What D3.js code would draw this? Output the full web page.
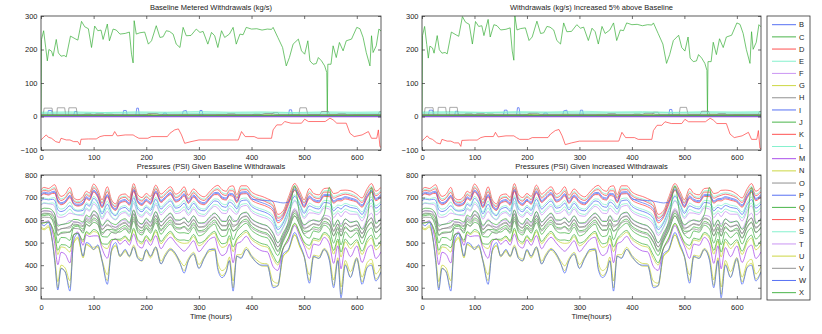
<!DOCTYPE html>
<html>
<head>
<meta charset="utf-8">
<script src="https://cdn.jsdelivr.net/npm/d3@7"></script>
<style>
  body { margin: 0; background: #fff; }
  svg { font-family: 'Liberation Sans', Arial, sans-serif; font-size: 7.5px; }
  .tick text { fill: #222; }
</style>
</head>
<body>
<svg id="chart" width="822" height="334"></svg>
<script>
// node names and colours (legend order)
const names = ['B', 'C', 'D', 'E', 'F', 'G', 'H', 'I', 'J', 'K', 'L', 'M', 'N', 'O', 'P', 'Q', 'R', 'S', 'T', 'U', 'V', 'W', 'X']
const colors = ['#4461f2', '#36ad36', '#ff3c3c', '#78efc8', '#c48af2', '#c6d22e', '#858585',
  '#4461f2', '#36ad36', '#ff3c3c', '#78efc8', '#a03ce8', '#c6d22e', '#858585',
  '#4461f2', '#36ad36', '#ff3c3c', '#78efc8', '#c48af2', '#c6d22e', '#858585',
  '#4461f2', '#36ad36']

const xTicks = [0, 100, 200, 300, 400, 500, 600]
const flowTicks = [-100, 0, 100, 200, 300]
const pressureTicks = [300, 400, 500, 600, 700, 800]
const increase = 1.05

// withdrawals (kg/s), [hour, value]
const wB = [[0, 2], [12, 2], [14, 18], [20, 18], [22, 2], [62, 2], [64, 15], [68, 15], [70, 2], [155, 2], [157, 18], [162, 18], [164, 2], [180, 2], [182, 25], [185, 25], [187, 2], [268, 2], [270, 16], [276, 18], [279, 2], [300, 2], [302, 18], [306, 18], [308, 2], [470, 2], [472, 20], [476, 20], [478, 2], [646, 2]]
const wC = [[0, 0], [1, 230], [5, 256], [9, 205], [12, 166], [15, 200], [20, 195], [23, 180], [29, 230], [33, 190], [38, 180], [44, 182], [48, 178], [56, 240], [65, 232], [70, 228], [77, 284], [83, 268], [90, 262], [96, 206], [102, 270], [108, 256], [114, 258], [118, 230], [126, 276], [130, 226], [137, 261], [143, 258], [150, 246], [160, 248], [168, 252], [172, 186], [175, 160], [177, 286], [181, 246], [188, 250], [197, 252], [204, 216], [210, 226], [219, 271], [226, 236], [232, 238], [238, 256], [244, 254], [251, 246], [257, 216], [264, 206], [270, 266], [276, 241], [285, 242], [295, 261], [302, 251], [308, 254], [317, 216], [324, 251], [330, 241], [336, 206], [343, 256], [349, 236], [358, 246], [365, 266], [371, 216], [378, 246], [384, 244], [390, 266], [400, 261], [410, 262], [420, 258], [430, 261], [438, 260], [441, 266], [450, 236], [459, 206], [466, 151], [472, 176], [479, 216], [489, 231], [495, 196], [501, 186], [507, 226], [511, 166], [517, 156], [523, 158], [527, 176], [533, 166], [539, 151], [543, 131], [544, 5], [545, 156], [551, 156], [555, 211], [561, 176], [567, 221], [574, 196], [580, 226], [590, 231], [600, 266], [606, 262], [612, 236], [618, 191], [625, 151], [628, 241], [631, 191], [637, 211], [642, 261], [646, 255]]
const wD = [[0, -70], [5, -62], [10, -55], [14, -62], [20, -65], [28, -75], [35, -78], [38, -65], [48, -70], [55, -70], [62, -75], [70, -75], [74, -85], [76, -68], [90, -67], [105, -67], [112, -60], [120, -57], [136, -57], [140, -45], [145, -58], [160, -55], [175, -55], [180, -60], [186, -65], [203, -65], [210, -60], [240, -60], [245, -50], [254, -40], [261, -37], [267, -55], [273, -80], [285, -75], [300, -70], [375, -70], [381, -45], [388, -60], [405, -60], [412, -65], [438, -65], [441, -40], [448, -25], [457, -25], [463, -15], [475, -20], [495, -20], [501, -8], [508, -15], [540, -15], [549, -5], [555, -10], [562, -20], [580, -20], [587, -50], [595, -60], [610, -55], [622, -45], [628, -65], [638, -65], [641, -40], [644, -90], [646, -92]]
const wE = [[0, 13], [60, 14], [120, 12], [180, 14], [240, 13], [300, 15], [360, 13], [420, 14], [480, 12], [540, 14], [600, 13], [646, 14]]
const wF = [[0, 0], [646, 0]]
const wG = [[0, 2], [75, 2], [80, 6], [95, 6], [100, 2], [190, 2], [195, 5], [210, 5], [215, 2], [330, 2], [335, 6], [350, 6], [355, 2], [470, 2], [475, 6], [490, 6], [495, 2], [590, 2], [595, 5], [612, 5], [617, 2], [646, 2]]
const wH = [[0, 0], [4, 3], [6, 25], [21, 25], [23, 3], [30, 3], [31, 26], [45, 26], [47, 3], [52, 3], [53, 26], [67, 26], [69, 4], [80, 4], [84, 9], [95, 9], [98, 4], [200, 4], [205, 8], [210, 4], [300, 4], [305, 7], [310, 4], [438, 4], [441, 12], [450, 12], [453, 4], [490, 4], [492, 26], [504, 26], [507, 6], [530, 6], [533, 15], [546, 15], [549, 4], [640, 5], [643, 14], [646, 14]]
const wI = [[0, 3], [230, 3], [233, 10], [238, 10], [241, 3], [646, 3]]
const wJ = [[0, 4], [120, 4], [125, 7], [135, 7], [140, 4], [400, 4], [405, 7], [415, 7], [420, 4], [646, 4]]
const wK = [[0, 1], [646, 1]]
const wL = [[0, 9], [150, 10], [300, 9], [450, 10], [600, 9], [646, 9]]
const wM = [[0, 0], [646, 0]]
const wN = [[0, 3], [260, 3], [265, 6], [280, 6], [285, 3], [540, 3], [545, 6], [560, 6], [565, 3], [646, 3]]
const wO = [[0, 5], [100, 4], [105, 8], [118, 8], [122, 4], [350, 4], [355, 8], [368, 8], [372, 4], [560, 4], [565, 8], [578, 8], [582, 4], [646, 5]]
const wP = [[0, 2], [646, 2]]
const wQ = [[0, 2], [646, 2]]
const wR = [[0, 1], [646, 1]]
const wS = [[0, 11], [646, 11]]
const wT = [[0, 1], [646, 1]]
const wU = [[0, 4], [646, 4]]
const wV = [[0, 6], [200, 6], [205, 9], [220, 9], [225, 6], [420, 6], [425, 9], [440, 9], [445, 6], [646, 6]]
const wW = [[0, 1], [646, 1]]
const wX = [[0, 3], [646, 3]]

// pressures (PSI), one value per entry of hours
const hours = [0, 6, 14, 22, 26, 32, 38, 46, 55, 62, 70, 80, 86, 92, 100, 108, 116, 126, 134, 142, 150, 160, 168, 176, 184, 192, 200, 208, 218, 228, 236, 246, 256, 264, 272, 280, 290, 300, 310, 320, 330, 336, 344, 352, 358, 365, 372, 380, 390, 400, 410, 420, 430, 441, 450, 460, 470, 482, 492, 500, 510, 518, 528, 538, 548, 556, 564, 570, 578, 588, 600, 610, 620, 628, 636, 646]
const pB = [715, 724, 720, 727, 728, 691, 677, 685, 710, 678, 670, 679, 704, 696, 733, 710, 664, 714, 667, 651, 684, 691, 675, 736, 686, 674, 693, 679, 729, 687, 703, 722, 689, 697, 717, 683, 711, 686, 677, 700, 722, 723, 703, 698, 719, 716, 686, 724, 726, 698, 685, 677, 668, 649, 597, 618, 676, 739, 701, 665, 707, 692, 686, 714, 714, 685, 695, 696, 704, 698, 688, 667, 710, 732, 696, 714]
const pC = [623, 627, 628, 612, 592, 532, 545, 547, 546, 577, 578, 559, 594, 586, 609, 595, 544, 558, 558, 554, 564, 576, 557, 614, 564, 552, 578, 559, 607, 558, 579, 600, 569, 565, 572, 559, 587, 553, 557, 582, 600, 580, 556, 557, 586, 550, 566, 592, 604, 574, 558, 548, 541, 504, 465, 517, 566, 630, 588, 550, 552, 570, 564, 594, 582, 530, 568, 528, 571, 551, 564, 522, 572, 591, 546, 569]
const pD = [735, 745, 740, 752, 757, 725, 705, 715, 745, 700, 690, 705, 728, 720, 760, 735, 690, 748, 690, 672, 710, 716, 700, 762, 712, 700, 718, 705, 755, 715, 730, 748, 715, 725, 748, 710, 738, 715, 703, 725, 748, 754, 735, 728, 748, 752, 712, 752, 752, 725, 712, 705, 695, 680, 625, 640, 700, 762, 725, 690, 740, 718, 712, 740, 742, 718, 722, 732, 733, 730, 715, 698, 740, 762, 728, 745]
const pE = [727, 737, 732, 742, 745, 711, 694, 703, 731, 691, 682, 695, 718, 710, 749, 725, 680, 734, 681, 664, 700, 706, 690, 751, 701, 689, 708, 695, 744, 704, 719, 737, 705, 714, 735, 699, 727, 703, 693, 715, 737, 742, 722, 716, 736, 738, 702, 741, 741, 714, 701, 694, 684, 667, 614, 631, 690, 753, 715, 680, 727, 707, 701, 730, 731, 705, 711, 717, 721, 717, 704, 685, 728, 750, 715, 732]
const pF = [667, 674, 672, 669, 661, 614, 612, 617, 631, 626, 622, 619, 648, 640, 671, 652, 604, 638, 612, 601, 624, 633, 616, 675, 625, 613, 635, 619, 668, 623, 641, 661, 629, 632, 646, 621, 649, 620, 617, 641, 661, 653, 631, 629, 653, 636, 626, 659, 665, 636, 622, 613, 605, 578, 532, 566, 620, 684, 644, 607, 632, 631, 625, 654, 649, 610, 632, 615, 638, 626, 626, 596, 642, 663, 623, 643]
const pG = [587, 588, 592, 559, 524, 447, 481, 477, 458, 534, 542, 503, 544, 536, 549, 542, 488, 474, 511, 515, 508, 523, 503, 556, 506, 494, 525, 503, 549, 495, 519, 542, 513, 501, 497, 499, 527, 486, 501, 528, 542, 507, 479, 486, 519, 460, 510, 528, 546, 514, 497, 485, 480, 429, 401, 474, 516, 583, 537, 497, 471, 512, 506, 538, 518, 449, 507, 436, 504, 474, 504, 447, 502, 520, 468, 494]
const pH = [625, 631, 630, 622, 609, 557, 561, 565, 573, 582, 580, 571, 602, 594, 622, 605, 556, 582, 566, 558, 576, 586, 568, 626, 576, 564, 588, 571, 619, 573, 592, 612, 581, 581, 592, 572, 600, 569, 569, 593, 612, 600, 577, 576, 602, 578, 578, 608, 616, 587, 572, 563, 555, 524, 481, 522, 574, 638, 597, 560, 576, 582, 576, 606, 598, 554, 582, 556, 587, 572, 577, 542, 590, 610, 568, 589]
const pI = [685, 693, 690, 692, 688, 646, 638, 645, 664, 646, 640, 643, 670, 662, 696, 675, 628, 670, 633, 620, 648, 656, 639, 699, 649, 637, 658, 643, 692, 649, 666, 685, 653, 658, 675, 646, 674, 647, 641, 664, 685, 682, 661, 657, 680, 670, 650, 685, 689, 661, 647, 639, 630, 607, 558, 586, 642, 705, 666, 630, 663, 655, 649, 678, 675, 641, 657, 649, 665, 656, 651, 625, 670, 691, 653, 672]
const pJ = [618, 620, 623, 597, 568, 498, 523, 522, 510, 568, 573, 542, 581, 573, 590, 580, 527, 525, 546, 547, 547, 561, 541, 596, 546, 534, 563, 542, 589, 537, 560, 582, 552, 543, 544, 540, 568, 530, 540, 566, 582, 553, 527, 531, 563, 513, 549, 570, 586, 555, 538, 527, 521, 476, 443, 508, 553, 618, 574, 535, 520, 552, 546, 577, 560, 498, 548, 490, 548, 522, 545, 494, 547, 565, 516, 541]
const pK = [723, 732, 728, 736, 739, 704, 687, 697, 723, 686, 677, 689, 713, 705, 743, 720, 674, 727, 675, 659, 694, 701, 684, 745, 695, 684, 703, 689, 739, 698, 713, 732, 699, 708, 728, 693, 721, 697, 687, 709, 732, 735, 715, 709, 730, 730, 696, 734, 735, 708, 695, 688, 678, 661, 608, 626, 685, 747, 710, 675, 719, 702, 695, 724, 724, 697, 705, 710, 715, 710, 698, 678, 721, 743, 708, 726]
const pL = [689, 698, 694, 699, 699, 661, 649, 656, 680, 652, 644, 651, 677, 669, 705, 683, 636, 684, 640, 625, 656, 664, 648, 708, 658, 646, 666, 651, 701, 658, 675, 694, 661, 668, 687, 655, 683, 656, 649, 673, 694, 693, 672, 668, 690, 684, 658, 695, 698, 670, 656, 648, 639, 618, 568, 592, 649, 712, 673, 638, 675, 664, 658, 687, 685, 653, 667, 664, 674, 666, 660, 636, 680, 702, 664, 683]
const pM = [592, 590, 597, 547, 496, 402, 457, 448, 410, 532, 547, 488, 535, 527, 530, 530, 473, 431, 504, 517, 493, 511, 489, 538, 488, 476, 513, 488, 531, 473, 500, 524, 498, 477, 462, 480, 508, 460, 486, 514, 524, 475, 443, 455, 493, 411, 495, 504, 528, 495, 476, 463, 459, 394, 377, 472, 507, 576, 526, 485, 430, 494, 488, 523, 494, 408, 486, 384, 478, 438, 485, 412, 473, 489, 430, 459]
const pN = [570, 562, 575, 497, 421, 299, 387, 370, 301, 499, 525, 432, 491, 483, 469, 480, 417, 331, 462, 489, 437, 461, 436, 480, 430, 418, 463, 432, 473, 406, 439, 466, 442, 407, 376, 419, 447, 388, 430, 461, 466, 391, 354, 374, 421, 299, 439, 434, 470, 434, 412, 396, 395, 308, 307, 439, 463, 534, 479, 435, 332, 436, 430, 467, 424, 310, 422, 270, 406, 349, 424, 326, 395, 408, 338, 373]
const pO = [607, 613, 612, 602, 587, 533, 540, 543, 549, 563, 562, 551, 582, 574, 601, 585, 536, 558, 547, 540, 556, 566, 548, 605, 555, 543, 568, 551, 598, 552, 571, 591, 561, 560, 569, 551, 579, 547, 549, 573, 591, 578, 554, 554, 580, 554, 558, 587, 595, 566, 551, 542, 534, 501, 460, 503, 554, 619, 577, 540, 553, 561, 555, 586, 577, 531, 561, 531, 565, 549, 556, 519, 568, 588, 545, 566]
const pP = [710, 719, 715, 722, 723, 686, 672, 680, 705, 673, 665, 674, 699, 691, 728, 705, 659, 709, 662, 646, 679, 686, 670, 731, 681, 669, 688, 674, 724, 682, 698, 717, 684, 692, 712, 678, 706, 681, 672, 695, 717, 718, 698, 693, 714, 711, 681, 719, 721, 693, 690, 688, 687, 684, 680, 676, 680, 734, 696, 660, 702, 687, 681, 709, 709, 680, 690, 691, 699, 693, 683, 662, 705, 727, 691, 709]
const pQ = [586, 588, 591, 565, 536, 466, 491, 490, 478, 536, 541, 510, 549, 541, 558, 548, 495, 493, 514, 515, 515, 529, 509, 564, 514, 502, 531, 510, 557, 505, 528, 550, 520, 511, 512, 508, 536, 498, 508, 534, 550, 521, 495, 499, 531, 481, 517, 538, 554, 523, 506, 495, 489, 444, 411, 476, 521, 586, 542, 503, 488, 520, 514, 545, 528, 466, 516, 458, 516, 490, 513, 462, 515, 533, 484, 509]
const pR = [707, 716, 711, 718, 718, 681, 668, 676, 700, 670, 662, 670, 695, 687, 724, 701, 655, 703, 658, 643, 675, 682, 666, 727, 677, 665, 684, 670, 720, 678, 694, 713, 680, 688, 707, 674, 702, 676, 668, 691, 713, 713, 693, 689, 709, 705, 677, 715, 717, 689, 676, 668, 659, 639, 588, 610, 668, 731, 692, 656, 696, 683, 677, 705, 704, 675, 686, 685, 694, 688, 679, 657, 700, 723, 686, 704]
const pS = [669, 677, 674, 676, 672, 630, 622, 629, 648, 630, 624, 627, 654, 646, 680, 659, 612, 654, 617, 604, 632, 640, 623, 683, 633, 621, 642, 627, 676, 633, 650, 669, 637, 642, 659, 630, 658, 631, 625, 648, 669, 666, 645, 641, 664, 654, 634, 669, 673, 645, 631, 623, 614, 591, 542, 570, 626, 689, 650, 614, 647, 639, 633, 662, 659, 625, 641, 633, 649, 640, 635, 609, 654, 675, 637, 656]
const pT = [634, 641, 639, 636, 628, 581, 579, 584, 598, 593, 589, 586, 615, 607, 638, 619, 571, 605, 579, 568, 591, 600, 583, 642, 592, 580, 602, 586, 635, 590, 608, 628, 596, 599, 613, 588, 616, 587, 584, 608, 628, 620, 598, 596, 620, 603, 593, 626, 632, 603, 589, 580, 572, 545, 499, 533, 587, 651, 611, 574, 599, 598, 592, 621, 616, 577, 599, 582, 605, 593, 593, 563, 609, 630, 590, 610]
const pU = [563, 557, 568, 502, 437, 327, 400, 387, 331, 497, 518, 439, 494, 486, 479, 485, 424, 358, 463, 484, 444, 466, 442, 489, 439, 427, 468, 439, 482, 418, 449, 475, 449, 420, 397, 429, 457, 403, 437, 467, 475, 410, 376, 392, 436, 330, 446, 447, 479, 444, 423, 408, 406, 329, 320, 437, 466, 535, 483, 440, 357, 445, 439, 474, 437, 335, 433, 303, 421, 371, 434, 347, 412, 426, 361, 394]
const pV = [636, 641, 641, 627, 609, 551, 562, 564, 565, 591, 591, 575, 608, 600, 625, 610, 560, 576, 573, 568, 580, 591, 572, 629, 579, 567, 593, 575, 622, 574, 595, 615, 585, 582, 589, 575, 603, 569, 573, 597, 615, 598, 574, 574, 602, 570, 582, 609, 619, 590, 574, 564, 557, 521, 482, 531, 580, 645, 603, 565, 571, 585, 579, 610, 599, 549, 584, 547, 587, 569, 580, 539, 589, 608, 564, 586]
const pW = [585, 575, 590, 500, 420, 290, 385, 370, 285, 510, 540, 440, 500, 495, 470, 490, 420, 315, 470, 500, 440, 470, 440, 480, 430, 420, 470, 440, 480, 405, 440, 470, 450, 410, 365, 420, 450, 385, 430, 470, 470, 380, 345, 370, 420, 285, 440, 430, 470, 440, 410, 400, 400, 300, 310, 450, 470, 545, 490, 440, 320, 440, 430, 470, 420, 300, 420, 255, 400, 345, 430, 315, 390, 400, 330, 370]
const pX = [647, 653, 652, 642, 627, 573, 580, 583, 589, 603, 602, 591, 622, 614, 641, 625, 576, 598, 587, 580, 596, 606, 588, 645, 595, 583, 608, 591, 638, 592, 611, 631, 601, 600, 609, 591, 619, 587, 589, 613, 631, 618, 594, 594, 620, 594, 598, 627, 635, 606, 591, 582, 574, 541, 500, 543, 594, 752, 617, 580, 593, 601, 595, 626, 745, 571, 601, 571, 605, 589, 596, 559, 608, 745, 585, 606]

const withdrawals = [wB, wC, wD, wE, wF, wG, wH, wI, wJ, wK, wL, wM, wN, wO, wP, wQ, wR, wS, wT, wU, wV, wW, wX]
const pressures = [pB, pC, pD, pE, pF, pG, pH, pI, pJ, pK, pL, pM, pN, pO, pP, pQ, pR, pS, pT, pU, pV, pW, pX]

window.addEventListener('DOMContentLoaded', init)

function init () {
  const svg = d3.select('#chart')
  const flowSeries = factor => withdrawals.map(s => s.map(d => [d[0], d[1] * factor]))
  const pressureSeries = () => pressures.map(s => s.map((v, i) => [hours[i], v]))

  const panels = [
    { id: 'a', left: 41, top: 16, width: 340, height: 134, domain: [-100, 300], ticks: flowTicks, curve: d3.curveLinear, title: 'Baseline Metered Withdrawals (kg/s)', series: flowSeries(1) },
    { id: 'b', left: 422, top: 16, width: 339, height: 134, domain: [-100, 300], ticks: flowTicks, curve: d3.curveLinear, title: 'Withdrawals (kg/s) Increased 5% above Baseline', series: flowSeries(increase) },
    { id: 'c', left: 41, top: 175, width: 340, height: 124, domain: [250, 800], ticks: pressureTicks, curve: d3.curveMonotoneX, title: 'Pressures (PSI) Given Baseline Withdrawals', label: 'Time (hours)', series: pressureSeries() },
    { id: 'd', left: 422, top: 175, width: 339, height: 124, domain: [250, 800], ticks: pressureTicks, curve: d3.curveMonotoneX, title: 'Pressures (PSI) Given Increased Withdrawals', label: 'Time(hours)', series: pressureSeries() }
  ]

  panels.forEach(p => buildPanel(svg, p))
  buildLegend(svg)
}

function buildPanel (svg, p) {
  const x = d3.scaleLinear().domain([0, 646]).range([0, p.width])
  const y = d3.scaleLinear().domain(p.domain).range([p.height, 0])
  const g = svg.append('g').attr('transform', `translate(${p.left}, ${p.top})`)

  g.append('clipPath').attr('id', `clip-${p.id}`)
    .append('rect').attr('width', p.width).attr('height', p.height)

  const line = d3.line().curve(p.curve).x(d => x(d[0])).y(d => y(d[1]))
  g.append('g').attr('clip-path', `url(#clip-${p.id})`)
    .selectAll('path')
    .data(p.series)
    .enter()
    .append('path')
    .attr('d', line)
    .attr('fill', 'none')
    .attr('stroke', (d, i) => colors[i])
    .attr('stroke-width', (d, i) => names[i] === 'M' && p.domain[0] < 0 ? 1.6 : 0.7)
    .attr('stroke-linejoin', 'round')

  const axes = [
    { axis: d3.axisBottom(x).tickValues(xTicks).tickPadding(p.domain[0] < 0 ? 4.3 : 5.5), at: `translate(0, ${p.height})` },
    { axis: d3.axisTop(x).tickValues(xTicks).tickFormat(''), at: 'translate(0, 0)' },
    { axis: d3.axisLeft(y).tickValues(p.ticks).tickPadding(3.5), at: 'translate(0, 0)' },
    { axis: d3.axisRight(y).tickValues(p.ticks).tickFormat(''), at: `translate(${p.width}, 0)` }
  ]
  axes.forEach(a => {
    const ag = g.append('g')
      .attr('transform', a.at)
      .call(a.axis.tickSizeInner(-3).tickSizeOuter(0))
    ag.select('.domain').remove()
    ag.selectAll('.tick line').attr('stroke', '#333').attr('stroke-width', 0.7)
    ag.selectAll('text').attr('font-size', '7.5px').attr('font-family', null)
  })

  g.append('rect')
    .attr('width', p.width)
    .attr('height', p.height)
    .attr('fill', 'none')
    .attr('stroke', '#333')
    .attr('stroke-width', 0.8)

  g.append('text')
    .attr('x', p.width / 2)
    .attr('y', p.domain[0] < 0 ? -6.5 : -6.2)
    .attr('text-anchor', 'middle')
    .attr('fill', '#222')
    .text(p.title)

  if (p.label) {
    g.append('text')
      .attr('x', p.width / 2)
      .attr('y', p.height + 20)
      .attr('text-anchor', 'middle')
      .attr('fill', '#222')
      .text(p.label)
  }
}

function buildLegend (svg) {
  const legend = svg.append('g').attr('transform', 'translate(767, 16)')
  legend.append('rect')
    .attr('width', 43)
    .attr('height', 284)
    .attr('fill', '#fff')
    .attr('stroke', '#333')
    .attr('stroke-width', 0.8)

  const item = legend.selectAll('.item')
    .data(names)
    .enter()
    .append('g')
    .attr('class', 'item')
    .attr('transform', (d, i) => `translate(0, ${8.7 + i * 12.18})`)

  item.append('line')
    .attr('x1', 5)
    .attr('x2', 29)
    .attr('stroke', (d, i) => colors[i])
    .attr('stroke-width', 0.9)

  item.append('text')
    .attr('x', 32)
    .attr('dy', '0.35em')
    .attr('fill', '#222')
    .text(d => d)
}
</script>
</body>
</html>
